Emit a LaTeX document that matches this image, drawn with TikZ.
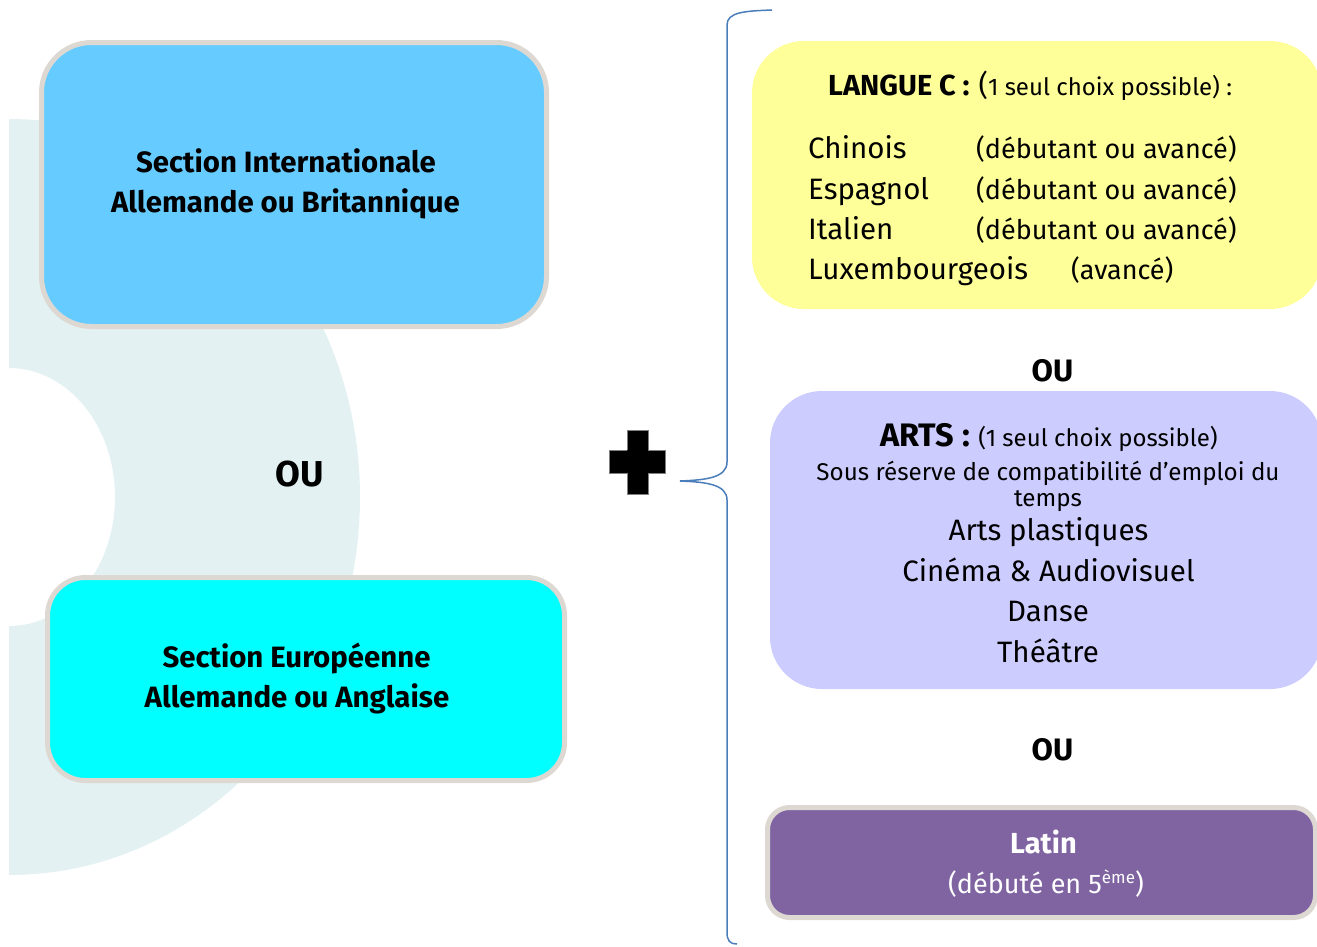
\documentclass[tikz,border=0pt]{standalone}
\usepackage{fontspec}
\setmainfont{Fira Sans}
\definecolor{bgshape}{HTML}{E4F1F2}
\definecolor{boxborder}{HTML}{DED8D3}
\definecolor{siblue}{HTML}{66CCFF}
\definecolor{secyan}{HTML}{00FFFF}
\definecolor{langyellow}{HTML}{FFFF99}
\definecolor{artlav}{HTML}{CCCCFF}
\definecolor{latinpurple}{HTML}{8064A2}
\definecolor{bracecol}{HTML}{4A7EBB}
\newcommand{\fs}[1]{\fontsize{#1}{#1}\selectfont}
\begin{document}
\begin{tikzpicture}[x=1pt,y=-1pt,
  panel/.style={rectangle, inner sep=0pt, outer sep=0pt},
  bordered/.style={panel, draw=boxborder, line width=5pt},
  txt/.style={inner sep=0pt, anchor=base},
  txtw/.style={inner sep=0pt, anchor=base west}]
\useasboundingbox (0,0) rectangle (1317,946);
\clip (0,0) rectangle (1317,946);
% background shape
\begin{scope}
\clip (9,0) rectangle (1317,946);
\fill[bgshape, even odd rule] (9,497) ellipse [x radius=351, y radius=378]
                              (9,497) ellipse [x radius=106, y radius=129];
\end{scope}
% left boxes
\node[bordered, fill=siblue, rounded corners=50pt, minimum width=505pt, minimum height=284pt] (si) at (294,184.5) {};
\node[txt] (si1) at (286,172.5) {\fs{29.4}\bfseries Section Internationale};
\node[txt] (si2) at (285.5,212.5) {\fs{29.4}\bfseries Allemande ou Britannique};
\node[txt] (ou1) at (300,486) {\fs{36}\bfseries OU};
\node[bordered, fill=secyan, rounded corners=38pt, minimum width=517pt, minimum height=203pt] (se) at (306,679) {};
\node[txt] (se1) at (296.5,667) {\fs{29.4}\bfseries Section Européenne};
\node[txt] (se2) at (297,707) {\fs{29.4}\bfseries Allemande ou Anglaise};
% plus
\fill[black, draw=gray, line width=0.6pt] (609,450) rectangle (665,473);
\fill[black] (627,430) rectangle (648,494);
\draw[gray, line width=0.6pt] (627,450) -- (627,430) -- (648,430) -- (648,450)
      (627,473) -- (627,494) -- (648,494) -- (648,473);
\fill[black] (610,451) rectangle (664,472);
% brace
\coordinate (bt) at (772,10);
\coordinate (bm) at (680,481);
\coordinate (bb) at (737,944);
\draw[bracecol, line width=1.5pt]
  (bt) .. controls (745,11) and (727,12) .. (727,25) -- (727,462)
  .. controls (727,478) and (705,480) .. (bm)
  .. controls (705,482) and (727,484) .. (727,500) -- (727,932)
  .. controls (727,941) and (730,944) .. (bb);
% langue C
\node[panel, fill=langyellow, rounded corners=52pt, minimum width=570pt, minimum height=268pt] (lc) at (1037,175) {};
\node[txtw] (lct) at (828,95.7) {\fs{29}\textbf{LANGUE C :}\hspace{9pt}(\fs{24}1 seul choix possible) :};
\node[txtw] (l1a) at (808,158) {\fs{29.5}Chinois};
\node[txtw] (l1b) at (976,158) {\fs{27}(débutant ou avancé)};
\node[txtw] (l2a) at (808,199) {\fs{29.5}Espagnol};
\node[txtw] (l2b) at (976,199) {\fs{27}(débutant ou avancé)};
\node[txtw] (l3a) at (808,239) {\fs{29.5}Italien};
\node[txtw] (l3b) at (976,239) {\fs{27}(débutant ou avancé)};
\node[txtw] (l4a) at (808,279) {\fs{29.5}Luxembourgeois};
\node[txtw] (l4b) at (1071,279) {\fs{27}(avancé)};
\node[txt] (ou2) at (1052.5,381) {\fs{31}\bfseries OU};
% arts
\node[panel, fill=artlav, rounded corners=52pt, minimum width=552pt, minimum height=298pt] (ar) at (1046,540) {};
\node[txt] (art) at (1049,446.7) {\fs{32.5}\textbf{ARTS :} \fs{24}(1 seul choix possible)};
\node[txt] (ar1) at (1048,480) {\fs{24.2}Sous réserve de compatibilité d’emploi du};
\node[txt] (ar2) at (1048,506) {\fs{24.2}temps};
\node[txt] (ar3) at (1048.5,540) {\fs{29.5}Arts plastiques};
\node[txt] (ar4) at (1048.5,581.7) {\fs{29.5}Cinéma \& Audiovisuel};
\node[txt] (ar5) at (1048,621.7) {\fs{29.5}Danse};
\node[txt] (ar6) at (1048,662.7) {\fs{29.5}Théâtre};
\node[txt] (ou3) at (1052.5,760) {\fs{31}\bfseries OU};
% latin
\node[bordered, fill=latinpurple, rounded corners=22pt, minimum width=548pt, minimum height=110pt] (la) at (1041.5,862.5) {};
\node[txt, text=white] (la1) at (1043.5,853.3) {\fs{29}\bfseries Latin};
\node[txt, text=white] (la2) at (1046,893) {\fs{27}(débuté en 5\raisebox{9.5pt}{\fs{17}ème})};
\end{tikzpicture}
\end{document}
